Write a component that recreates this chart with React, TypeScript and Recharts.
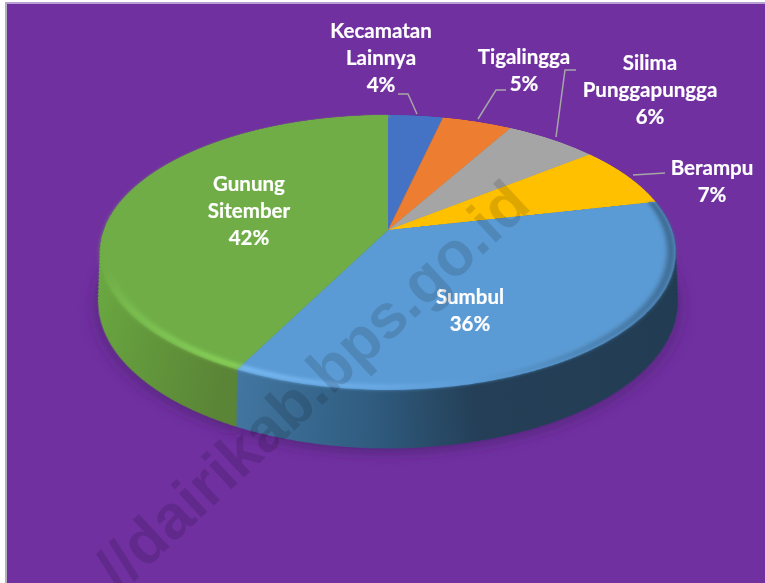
import { PieChart, Pie, Cell } from "recharts";

const districts = ["Kecamatan Lainnya", "Tigalingga", "Silima Punggapungga", "Berampu", "Sumbul", "Gunung Sitember"];
const shares = [3.6, 4.6, 6.1, 7.2, 36.01, 42.49];
const faceColors = ["#4472c4", "#ed7d31", "#a5a5a5", "#ffc000", "#5b9bd5", "#70ad47"];
const sideColors = ["#2f5597", "#ae5a21", "#7b7b7b", "#bf9000", "url(#sideBlue)", "url(#sideGreen)"];
const rimColors = ["none", "none", "none", "none", "url(#rimBlue)", "url(#rimGreen)"];

const data = districts.map((name, i) => ({ name, value: shares[i] }));

// side wall is a stack of the same pie pushed down the tilted plane
const wallOffsets = Array.from({ length: 49 }, (_, i) => 96 - i * 2);

const labels = [
  { lines: ["Kecamatan", "Lainnya", "4%"], x: 381, y: 38 },
  { lines: ["Tigalingga", "5%"], x: 524, y: 64 },
  { lines: ["Silima", "Punggapungga", "6%"], x: 650, y: 70 },
  { lines: ["Berampu", "7%"], x: 712, y: 175 },
  { lines: ["Gunung", "Sitember", "42%"], x: 249, y: 191 },
  { lines: ["Sumbul", "36%"], x: 470, y: 304 },
];

const leaders = [
  "398,94 408,94 417,114",
  "506,90 496,90 478,119",
  "576,70 565,70 556,137",
  "665,173 633,175",
];

const R = 284;
const CX = 350;
const CY = 350;

export default function App() {
  return (
    <div style={{ position: "absolute", left: 0, top: 0, width: 765, height: 583, overflow: "hidden", background: "#fff" }}>
      <div
        style={{
          position: "absolute",
          left: 5,
          top: 2,
          width: 760,
          height: 581,
          boxSizing: "border-box",
          background: "#7030a0",
          borderLeft: "2px solid #b5b0bc",
          borderTop: "2px solid #b9a0d4",
        }}
      />
      <div
        style={{
          position: "absolute",
          left: 388 - CX,
          top: 230 - CY,
          width: 700,
          height: 800,
          transformOrigin: `${CX}px ${CY}px`,
          transform: "perspective(1531px) rotateX(61.9deg)",
        }}
      >
        <PieChart width={700} height={800} margin={{ top: 0, right: 0, bottom: 0, left: 0 }}>
          <defs>
            <linearGradient id="sideGreen" gradientUnits="userSpaceOnUse" x1={66} y1={0} x2={212} y2={0}>
              <stop offset="0" stopColor="#6bab42" />
              <stop offset="1" stopColor="#5a8436" />
            </linearGradient>
            <linearGradient id="sideBlue" gradientUnits="userSpaceOnUse" x1={212} y1={0} x2={634} y2={0}>
              <stop offset="0" stopColor="#4479a5" />
              <stop offset="0.3" stopColor="#2f5b7e" />
              <stop offset="0.5" stopColor="#243f57" />
              <stop offset="1" stopColor="#213c52" />
            </linearGradient>
            <linearGradient id="rimGreen" gradientUnits="userSpaceOnUse" x1={0} y1={430} x2={0} y2={620}>
              <stop offset="0" stopColor="#70ad47" />
              <stop offset="1" stopColor="#8ad65c" />
            </linearGradient>
            <linearGradient id="rimBlue" gradientUnits="userSpaceOnUse" x1={212} y1={0} x2={634} y2={0}>
              <stop offset="0" stopColor="#7cbcf5" />
              <stop offset="0.3" stopColor="#6aaae6" />
              <stop offset="0.5" stopColor="#5b9bd5" />
              <stop offset="0.75" stopColor="#4a80b0" />
              <stop offset="1" stopColor="#3a648a" />
            </linearGradient>
            <filter id="soft" x="-20%" y="-20%" width="140%" height="140%">
              <feGaussianBlur stdDeviation="8" />
            </filter>
            <filter id="softRim" x="-5%" y="-5%" width="110%" height="110%">
              <feGaussianBlur stdDeviation="2.5" />
            </filter>
          </defs>
          <Pie
            data={data}
            dataKey="value"
            cx={CX}
            cy={CY + 102}
            outerRadius={R - 14}
            startAngle={90}
            endAngle={-270}
            stroke="none"
            isAnimationActive={false}
          >
            {data.map((d) => (
              <Cell key={d.name} fill="#4c1f72" fillOpacity={0.75} filter="url(#soft)" />
            ))}
          </Pie>
          {wallOffsets.map((offset) => (
            <Pie
              key={offset}
              data={data}
              dataKey="value"
              cx={CX}
              cy={CY + offset}
              outerRadius={R - offset * 0.146}
              startAngle={90}
              endAngle={-270}
              stroke="none"
              isAnimationActive={false}
            >
              {data.map((d, i) => (
                <Cell key={d.name} fill={sideColors[i]} />
              ))}
            </Pie>
          ))}
          <Pie
            data={data}
            dataKey="value"
            cx={CX}
            cy={CY}
            outerRadius={R}
            startAngle={90}
            endAngle={-270}
            stroke="none"
            isAnimationActive={false}
          >
            {data.map((d, i) => (
              <Cell key={d.name} fill={faceColors[i]} />
            ))}
          </Pie>
          <Pie
            data={data}
            dataKey="value"
            cx={CX}
            cy={CY}
            innerRadius={R - 8}
            outerRadius={R - 1}
            startAngle={90}
            endAngle={-270}
            stroke="none"
            isAnimationActive={false}
          >
            {data.map((d, i) => (
              <Cell key={d.name} fill={rimColors[i]} filter="url(#softRim)" />
            ))}
          </Pie>
        </PieChart>
      </div>
      <svg width={765} height={583} style={{ position: "absolute", left: 0, top: 0 }}>
        {leaders.map((points) => (
          <polyline key={points} points={points} fill="none" stroke="#a6a6a6" strokeWidth={1.5} />
        ))}
        {labels.map((l) => (
          <text
            key={l.lines[0]}
            textAnchor="middle"
            fontFamily="Lato, sans-serif"
            fontWeight={700}
            fontSize={20.5}
            fill="#fff"
            stroke="#fff"
            strokeWidth={0.2}
          >
            {l.lines.map((line, i) => (
              <tspan key={line} x={l.x} y={l.y + i * 27}>
                {line}
              </tspan>
            ))}
          </text>
        ))}
        <text
          transform="translate(533,208) rotate(-43)"
          textAnchor="end"
          fontFamily="Liberation Sans, Arial, sans-serif"
          fontWeight={700}
          fontSize={62}
          fill="rgba(0,0,0,0.13)"
        >
          //dairikab.bps.go.id
        </text>
      </svg>
    </div>
  );
}
